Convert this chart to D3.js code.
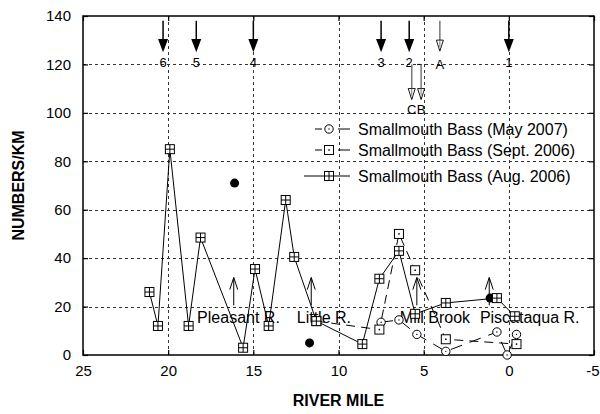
<!DOCTYPE html>
<html>
<head>
<meta charset="utf-8">
<script src="https://cdn.jsdelivr.net/npm/d3@7"></script>
<style>
  html, body { margin: 0; padding: 0; background: #fff; }
  svg { display: block; font-family: "Liberation Sans", Arial, sans-serif; }
</style>
</head>
<body>
<svg id="chart" width="600" height="414"></svg>
<script>
// River mile axis and count axis ticks
const mileTicks = [25, 20, 15, 10, 5, 0, -5];
const countTicks = [0, 20, 40, 60, 80, 100, 120, 140];

// Smallmouth Bass (Aug. 2006)
const augMiles  = [21.1, 20.6, 19.9, 18.8, 18.1, 15.6, 14.9, 14.1, 13.1, 12.6, 11.3, 8.6, 7.6, 6.45, 5.5, 3.7, 0.7, -0.35];
const augCounts = [26, 12, 85, 12, 48.5, 3, 35.5, 12, 64, 40.5, 14, 4.5, 31.5, 43, 17, 21.5, 23.5, 16];

// Smallmouth Bass (Sept. 2006)
const septMiles  = [11.3, 7.6, 6.45, 5.5, 3.7, -0.45];
const septCounts = [14, 10.5, 50, 35, 6.5, 4.5];

// Smallmouth Bass (May 2007)
const mayMiles  = [7.5, 6.45, 5.4, 3.7, 0.7, 0.1, -0.45];
const mayCounts = [13.5, 14.5, 8.5, 1.5, 9.5, 0, 8.5];

// Tributary samples (filled dots)
const tribDotMiles  = [16.1, 11.7, 1.1];
const tribDotCounts = [71, 5, 23.5];

// Numbered mainstem sites
const siteLabels = ["6", "5", "4", "3", "2", "1"];
const siteMiles  = [20.3, 18.35, 15.0, 7.5, 5.85, 0];

// Lettered sites (open arrows)
const letterLabels = ["A", "C", "B"];
const letterMiles  = [4.05, 5.7, 5.15];

// Tributary confluences
const tribNames      = ["Pleasant R.", "Little R.", "Mill Brook", "Piscataqua R."];
const tribMiles      = [16.15, 11.6, 5.4, 1.15];
const tribLabelMiles = [18.3, 12.45, 6.4, 1.7];

const svg = d3.select("#chart");
const W = 600, H = 414;
const m = { left: 83, right: 6, top: 16, bottom: 59 };
const x = d3.scaleLinear().domain([25, -5]).range([m.left, W - m.right]);
const y = d3.scaleLinear().domain([0, 140]).range([H - m.bottom, m.top]);
const x0 = x.range()[0], x1 = x.range()[1], y0 = y.range()[0], y1 = y.range()[1];

// grid
const grid = svg.append("g").attr("stroke", "#333").attr("stroke-width", 1)
  .attr("stroke-dasharray", "3,3");
countTicks.filter(v => v > 0 && v < 140).forEach(v => {
  grid.append("line").attr("x1", x0).attr("x2", x1)
    .attr("y1", Math.round(y(v)) + 0.5).attr("y2", Math.round(y(v)) + 0.5);
});
mileTicks.filter(v => v < 25 && v > -5).forEach(v => {
  grid.append("line").attr("y1", y0).attr("y2", y1)
    .attr("x1", Math.round(x(v)) + 0.5).attr("x2", Math.round(x(v)) + 0.5);
});

// axes (ticks point inward)
const plain = d => String(d);
const axisFont = g => g.selectAll("text").attr("font-size", 15)
  .attr("font-family", "'Liberation Sans', Arial, sans-serif").attr("fill", "#000");
svg.append("g").attr("transform", `translate(${x0},0)`)
  .call(d3.axisLeft(y).tickValues(countTicks).tickFormat(plain).tickSizeInner(-5).tickSizeOuter(0).tickPadding(12))
  .call(g => g.select(".domain").remove()).call(axisFont);
svg.append("g").attr("transform", `translate(${x1},0)`)
  .call(d3.axisRight(y).tickValues(countTicks).tickSizeInner(-5).tickSizeOuter(0).tickFormat(""))
  .call(g => g.select(".domain").remove());
svg.append("g").attr("transform", `translate(0,${y0})`)
  .call(d3.axisBottom(x).tickValues(mileTicks).tickFormat(plain).tickSizeInner(-5).tickSizeOuter(0).tickPadding(10))
  .call(g => g.select(".domain").remove()).call(axisFont)
  .call(g => g.selectAll(".tick text").filter(d => d === -5)
    .attr("text-anchor", "end").attr("dx", W - 1 - x1));
svg.append("g").attr("transform", `translate(0,${y1})`)
  .call(d3.axisTop(x).tickValues(mileTicks).tickSizeInner(-5).tickSizeOuter(0).tickFormat(""))
  .call(g => g.select(".domain").remove());
svg.selectAll(".tick line").attr("stroke", "#000").attr("stroke-width", 1.2);

// frame
svg.append("rect").attr("x", x0).attr("y", y1).attr("width", x1 - x0).attr("height", y0 - y1)
  .attr("fill", "none").attr("stroke", "#000").attr("stroke-width", 1.5);

// axis titles
svg.append("text").attr("x", (x0 + x1) / 2).attr("y", 406).attr("text-anchor", "middle")
  .attr("font-size", 16).attr("font-weight", "bold").text("RIVER MILE");
svg.append("text").attr("transform", `translate(24,${(y0 + y1) / 2}) rotate(-90)`)
  .attr("text-anchor", "middle").attr("font-size", 16).attr("font-weight", "bold").text("NUMBERS/KM");

// tributary confluence arrows and names
const tribG = svg.append("g");
tribNames.forEach((name, i) => {
  const ax = x(tribMiles[i]);
  tribG.append("path")
    .attr("d", `M${ax},${y(20.5)}V${y(32)}M${ax - 4},${y(27)}L${ax},${y(32)}L${ax + 4},${y(27)}`)
    .attr("fill", "none").attr("stroke", "#000").attr("stroke-width", 1);
  tribG.append("text").attr("x", x(tribLabelMiles[i])).attr("y", y(13.3))
    .attr("font-size", 16).text(name);
});

// series lines
const line = d3.line().x(d => x(d[0])).y(d => y(d[1]));
const zip = (a, b) => a.map((v, i) => [v, b[i]]);
const augData = zip(augMiles, augCounts);
const septData = zip(septMiles, septCounts);
const mayData = zip(mayMiles, mayCounts);

svg.append("path").datum(mayData).attr("d", line).attr("fill", "none")
  .attr("stroke", "#000").attr("stroke-width", 1).attr("stroke-dasharray", "12,8");
svg.append("path").datum(septData).attr("d", line).attr("fill", "none")
  .attr("stroke", "#000").attr("stroke-width", 1).attr("stroke-dasharray", "9,6");
svg.append("path").datum(augData).attr("d", line).attr("fill", "none")
  .attr("stroke", "#000").attr("stroke-width", 1);

// marker drawers
function circleMark(g, cx, cy) {
  g.append("circle").attr("cx", cx).attr("cy", cy).attr("r", 4.2)
    .attr("fill", "#fff").attr("stroke", "#000").attr("stroke-width", 1);
  g.append("circle").attr("cx", cx).attr("cy", cy).attr("r", 0.7).attr("fill", "#000");
}
function dotSquareMark(g, cx, cy) {
  g.append("rect").attr("x", cx - 4.5).attr("y", cy - 4.5).attr("width", 9).attr("height", 9)
    .attr("fill", "#fff").attr("stroke", "#000").attr("stroke-width", 1);
  g.append("rect").attr("x", cx - 0.75).attr("y", cy - 0.75).attr("width", 1.5).attr("height", 1.5)
    .attr("fill", "#000");
}
function crossSquareMark(g, cx, cy) {
  g.append("rect").attr("x", cx - 4.5).attr("y", cy - 4.5).attr("width", 9).attr("height", 9)
    .attr("fill", "#fff").attr("stroke", "#000").attr("stroke-width", 1);
  g.append("path").attr("d", `M${cx - 4.5},${cy}H${cx + 4.5}M${cx},${cy - 4.5}V${cy + 4.5}`)
    .attr("stroke", "#000").attr("stroke-width", 1);
}

// tributary dots
svg.append("g").selectAll("circle").data(zip(tribDotMiles, tribDotCounts)).join("circle")
  .attr("cx", d => x(d[0])).attr("cy", d => y(d[1])).attr("r", 4.5).attr("fill", "#000");

const markG = svg.append("g");
mayData.forEach(d => circleMark(markG, x(d[0]), y(d[1])));
septData.forEach(d => dotSquareMark(markG, x(d[0]), y(d[1])));
augData.forEach(d => crossSquareMark(markG, x(d[0]), y(d[1])));

// numbered site arrows (filled heads)
const siteG = svg.append("g");
siteLabels.forEach((lab, i) => {
  const ax = x(siteMiles[i]);
  siteG.append("line").attr("x1", ax).attr("x2", ax).attr("y1", y(138)).attr("y2", y(130))
    .attr("stroke", "#000").attr("stroke-width", 1.5);
  siteG.append("path").attr("d", `M${ax - 5},${y(130.5)}L${ax + 5},${y(130.5)}L${ax},${y(125)}Z`)
    .attr("fill", "#000");
  siteG.append("text").attr("x", ax).attr("y", y(118.8)).attr("text-anchor", "middle")
    .attr("font-size", 13).text(lab);
});

// lettered site arrows (open heads)
const letterTop = [138, 120, 120];
const letterTip = [125.5, 105.5, 105.5];
const letterText = [118, 99.5, 99.5];
letterLabels.forEach((lab, i) => {
  const ax = x(letterMiles[i]);
  const top = y(letterTop[i]), tip = y(letterTip[i]);
  if (lab === "B") {
    siteG.append("line").attr("x1", ax - 4).attr("x2", ax).attr("y1", top).attr("y2", top)
      .attr("stroke", "#000").attr("stroke-width", 1);
  }
  siteG.append("line").attr("x1", ax).attr("x2", ax).attr("y1", top).attr("y2", tip - 1)
    .attr("stroke", "#777").attr("stroke-width", 1.5);
  siteG.append("path").attr("d", `M${ax - 3.5},${tip - 11}L${ax + 3.5},${tip - 11}L${ax},${tip}Z`)
    .attr("fill", "#fff").attr("stroke", "#000").attr("stroke-width", 0.9);
  siteG.append("line").attr("x1", ax).attr("x2", ax).attr("y1", tip - 11).attr("y2", tip - 4)
    .attr("stroke", "#777").attr("stroke-width", 1);
  siteG.append("text").attr("x", ax).attr("y", y(letterText[i])).attr("text-anchor", "middle")
    .attr("font-size", 13).text(lab);
});

// legend
const legend = [
  { label: "Smallmouth Bass (May 2007)", mark: circleMark, dash: true, x0: 315, y: 129 },
  { label: "Smallmouth Bass (Sept. 2006)", mark: dotSquareMark, dash: true, x0: 315, y: 150 },
  { label: "Smallmouth Bass (Aug. 2006)", mark: crossSquareMark, dash: false, x0: 304, y: 176 }
];
const legG = svg.append("g");
legend.forEach(e => {
  legG.append("line").attr("x1", e.x0).attr("x2", 350).attr("y1", e.y).attr("y2", e.y)
    .attr("stroke", "#000").attr("stroke-width", 1)
    .attr("stroke-dasharray", e.dash ? "7,16,12" : null);
  e.mark(legG, 329, e.y);
  legG.append("text").attr("x", 358).attr("y", e.y + 5.5).attr("font-size", 16).text(e.label);
});
</script>
</body>
</html>
